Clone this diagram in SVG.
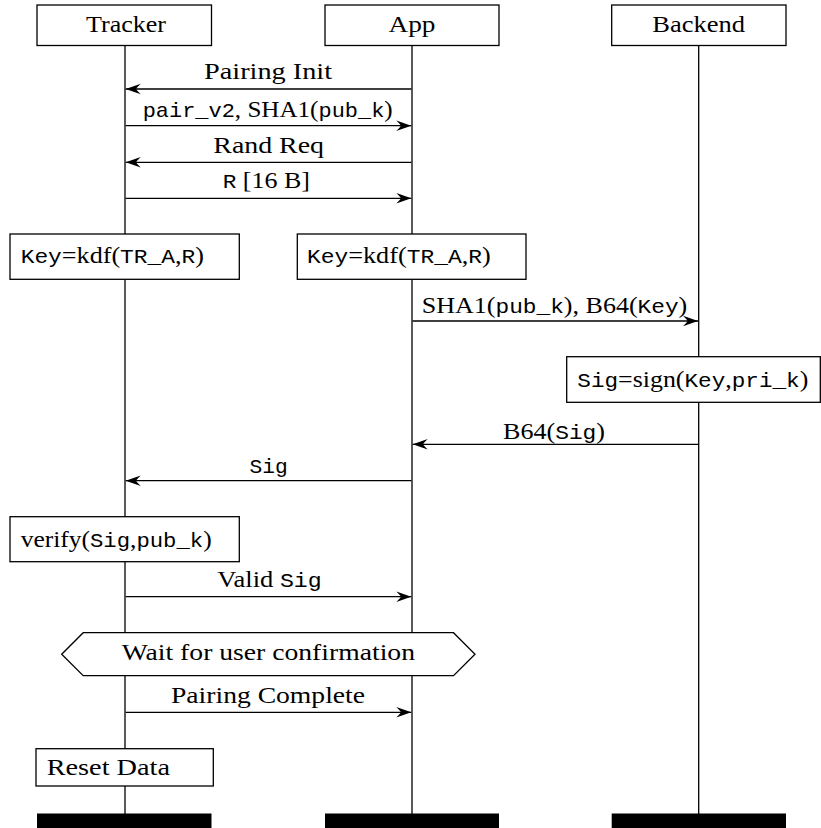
<svg xmlns="http://www.w3.org/2000/svg" width="821" height="828" viewBox="0 0 821 828">
<style>
.box{fill:#fff;stroke:#000;stroke-width:1.3}
.life{stroke:#000;stroke-width:1.3;fill:none}
.bar{fill:#000;stroke:none}
.msg{stroke:#000;stroke-width:1.3;fill:none;marker-end:url(#ah)}
text{font-family:"Liberation Serif","Times New Roman",serif;font-size:24px;fill:#000}
.m{font-family:"Liberation Mono","Courier New",monospace;font-size:21px}
</style>
<defs>
<marker id="ah" markerUnits="userSpaceOnUse" markerWidth="18" markerHeight="14" viewBox="-16 -7 18 14" refX="0" refY="0" orient="auto">
<path d="M0,0 L-15,-5.2 Q-10.5,-1 -10.5,0 Q-10.5,1 -15,5.2 Z" fill="#000"/>
</marker>
</defs>

<g id="tracker">
<line class="life" x1="125" y1="45.5" x2="125" y2="814"/>
<rect class="box" x="37" y="5" width="174.5" height="40.5"/>
<text x="86" y="32" textLength="80" lengthAdjust="spacingAndGlyphs">Tracker</text>
<rect class="bar" x="37" y="813.5" width="174.5" height="14.5"/>
</g>
<g id="app">
<line class="life" x1="412" y1="45.5" x2="412" y2="814"/>
<rect class="box" x="325" y="5" width="174" height="40.5"/>
<text x="388.5" y="32" textLength="47" lengthAdjust="spacingAndGlyphs">App</text>
<rect class="bar" x="325" y="813.5" width="174" height="14.5"/>
</g>
<g id="backend">
<line class="life" x1="698.7" y1="45.5" x2="698.7" y2="814"/>
<rect class="box" x="611.7" y="5" width="174.3" height="40.5"/>
<text x="652.3" y="32" textLength="92.7" lengthAdjust="spacingAndGlyphs">Backend</text>
<rect class="bar" x="611.7" y="813.5" width="174.3" height="14.5"/>
</g>

<g id="key-tracker">
<rect class="box" x="10" y="234" width="229.3" height="45.3"/>
<text x="20.7" y="262.7" textLength="183.3" lengthAdjust="spacingAndGlyphs"><tspan class="m">Key</tspan>=kdf(<tspan class="m">TR_A</tspan>,<tspan class="m">R</tspan>)</text>
</g>
<g id="key-app">
<rect class="box" x="297.3" y="234" width="228.7" height="45.3"/>
<text x="307" y="262.7" textLength="183.7" lengthAdjust="spacingAndGlyphs"><tspan class="m">Key</tspan>=kdf(<tspan class="m">TR_A</tspan>,<tspan class="m">R</tspan>)</text>
</g>
<g id="sign">
<rect class="box" x="566.7" y="356.7" width="253.6" height="45.6"/>
<text x="577.3" y="386.7" textLength="231" lengthAdjust="spacingAndGlyphs"><tspan class="m">Sig</tspan>=sign(<tspan class="m">Key</tspan>,<tspan class="m">pri_k</tspan>)</text>
</g>
<g id="verify">
<rect class="box" x="10" y="516.7" width="229.3" height="45"/>
<text x="20.7" y="546.7" textLength="191" lengthAdjust="spacingAndGlyphs">verify(<tspan class="m">Sig</tspan>,<tspan class="m">pub_k</tspan>)</text>
</g>
<g id="wait">
<polygon class="box" points="61.7,654.2 83.2,632.7 453.5,632.7 475,654.2 453.5,675.7 83.2,675.7"/>
<text x="121.7" y="660" textLength="293.3" lengthAdjust="spacingAndGlyphs">Wait for user confirmation</text>
</g>
<g id="reset">
<rect class="box" x="36" y="748.7" width="177.3" height="37.3"/>
<text x="46.7" y="775" textLength="123.3" lengthAdjust="spacingAndGlyphs">Reset Data</text>
</g>

<g id="messages">
<line class="msg" x1="411.4" y1="89" x2="125.7" y2="89"/>
<text x="204" y="79" textLength="128" lengthAdjust="spacingAndGlyphs">Pairing Init</text>
<line class="msg" x1="125.6" y1="125.7" x2="411.3" y2="125.7"/>
<text x="142.7" y="116.5" textLength="250" lengthAdjust="spacingAndGlyphs"><tspan class="m">pair_v2</tspan>, SHA1(<tspan class="m">pub_k</tspan>)</text>
<line class="msg" x1="411.4" y1="162.3" x2="125.7" y2="162.3"/>
<text x="213.3" y="152.5" textLength="110.7" lengthAdjust="spacingAndGlyphs">Rand Req</text>
<line class="msg" x1="125.6" y1="198.3" x2="411.3" y2="198.3"/>
<text x="222.7" y="188" textLength="87.3" lengthAdjust="spacingAndGlyphs"><tspan class="m">R</tspan> [16 B]</text>
<line class="msg" x1="412.6" y1="321" x2="698" y2="321"/>
<text x="421.7" y="313.3" textLength="265.6" lengthAdjust="spacingAndGlyphs">SHA1(<tspan class="m">pub_k</tspan>), B64(<tspan class="m">Key</tspan>)</text>
<line class="msg" x1="698" y1="444.3" x2="412.7" y2="444.3"/>
<text x="503" y="439" textLength="102" lengthAdjust="spacingAndGlyphs">B64(<tspan class="m">Sig</tspan>)</text>
<line class="msg" x1="411.4" y1="480.7" x2="125.7" y2="480.7"/>
<text x="249.4" y="473.3" textLength="38.3" lengthAdjust="spacingAndGlyphs"><tspan class="m">Sig</tspan></text>
<line class="msg" x1="125.6" y1="596.7" x2="411.3" y2="596.7"/>
<text x="217.3" y="587.3" textLength="104.4" lengthAdjust="spacingAndGlyphs">Valid <tspan class="m">Sig</tspan></text>
<line class="msg" x1="125.6" y1="712.3" x2="411.3" y2="712.3"/>
<text x="171" y="703.3" textLength="194" lengthAdjust="spacingAndGlyphs">Pairing Complete</text>
</g>
</svg>
